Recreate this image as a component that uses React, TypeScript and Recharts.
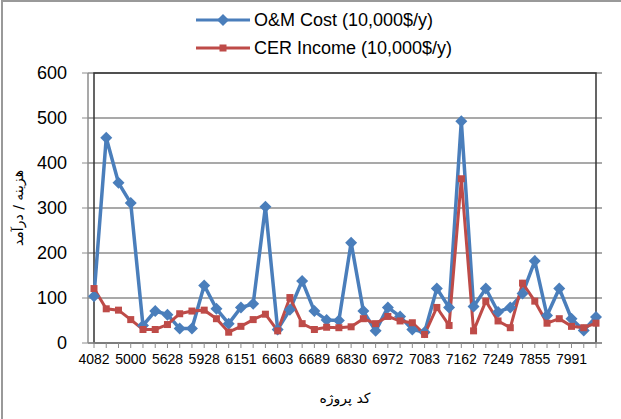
import { LineChart, Line, XAxis, YAxis, CartesianGrid, ReferenceArea } from 'recharts';

// every third project code is labelled on the axis
const codeLabels = ['4082', '5000', '5628', '5928', '6151', '6603', '6689', '6830', '6972', '7083', '7162', '7249', '7855', '7991'];

const omCost = [
  104, 456, 356, 311, 39, 71, 63, 32, 32, 128, 76, 43, 79, 87, 303,
  30, 74, 138, 71, 51, 50, 223, 71, 27, 79, 59, 30, 24, 121, 79,
  493, 81, 121, 69, 79, 110, 182, 61, 121, 54, 28, 58,
];

const cerIncome = [
  121, 76, 73, 52, 30, 30, 41, 65, 71, 73, 54, 24, 37, 52, 64,
  27, 101, 43, 30, 35, 34, 36, 54, 43, 59, 49, 45, 19, 79, 39,
  365, 27, 93, 49, 34, 133, 93, 44, 54, 37, 34, 44,
];

const yTicks = [0, 100, 200, 300, 400, 500, 600];

const BLUE = '#4a7ebb';
const RED = '#be4b48';

const data = omCost.map((v, i) => ({
  code: i % 3 === 0 ? codeLabels[i / 3] : '',
  om: v,
  cer: cerIncome[i],
}));

const Diamond = (props: any) => {
  const { cx, cy, index } = props;
  if (cx == null || cy == null) return null;
  const r = 6;
  return (
    <polygon
      key={`d-${index}`}
      points={`${cx},${cy - r} ${cx + r},${cy} ${cx},${cy + r} ${cx - r},${cy}`}
      fill={BLUE}
    />
  );
};

const Square = (props: any) => {
  const { cx, cy, index } = props;
  if (cx == null || cy == null) return null;
  const s = 7;
  return <rect key={`s-${index}`} x={cx - s / 2} y={cy - s / 2} width={s} height={s} fill={RED} />;
};

const LegendRow = ({ color, label, marker }: { color: string; label: string; marker: 'd' | 's' }) => (
  <div style={{ display: 'flex', alignItems: 'center', height: 28 }}>
    <svg width={56} height={14}>
      <line x1={0} y1={7} x2={54} y2={7} stroke={color} strokeWidth={3} />
      {marker === 'd' ? (
        <polygon points="27,1 33,7 27,13 21,7" fill={color} />
      ) : (
        <rect x={23.5} y={3.5} width={7} height={7} fill={color} />
      )}
    </svg>
    <span style={{ marginLeft: 2 }}>{label}</span>
  </div>
);

export default function App() {
  return (
    <div style={{ position: 'absolute', left: 0, top: 0, width: 621, height: 419, background: '#fff' }}>
      <LineChart width={621} height={419} data={data} margin={{ top: 73, right: 19, left: 0, bottom: 0 }}>
        <CartesianGrid vertical={false} stroke="#8c8c8c" strokeWidth={1.5} />
        <XAxis
          dataKey="code"
          interval={0}
          height={76}
          padding={{ left: 6, right: 6 }}
          tickSize={5}
          tickMargin={6}
          axisLine={{ stroke: '#8c8c8c', strokeWidth: 1.5 }}
          tickLine={{ stroke: '#8c8c8c' }}
          tick={{ fill: '#000', fontSize: 14, fontFamily: 'Liberation Sans, Arial, sans-serif' }}
          label={{
            value: 'کد پروژه',
            position: 'insideBottom',
            offset: 16,
            style: { fill: '#000', fontSize: 14, fontFamily: 'DejaVu Sans, sans-serif' },
          }}
        />
        <YAxis
          width={88}
          domain={[0, 600]}
          ticks={yTicks}
          tickSize={6}
          tickMargin={15}
          axisLine={{ stroke: '#8c8c8c', strokeWidth: 1.5 }}
          tickLine={{ stroke: '#8c8c8c' }}
          tick={{ fill: '#000', fontSize: 18, fontFamily: 'Liberation Sans, Arial, sans-serif' }}
          label={{
            value: 'هزینه / درآمد',
            angle: -90,
            position: 'insideLeft',
            offset: 18,
            style: { fill: '#000', fontSize: 14, fontFamily: 'DejaVu Sans, sans-serif', textAnchor: 'middle' },
          }}
        />
        <ReferenceArea y1={0} y2={600} fill="none" stroke="#333" strokeWidth={1.5} />
        <Line
          dataKey="om"
          stroke={BLUE}
          strokeWidth={3.5}
          dot={Diamond}
          activeDot={false}
          isAnimationActive={false}
        />
        <Line
          dataKey="cer"
          stroke={RED}
          strokeWidth={3}
          dot={Square}
          activeDot={false}
          isAnimationActive={false}
        />
      </LineChart>
      <div
        style={{
          position: 'absolute',
          left: 196,
          top: 6,
          fontFamily: 'Liberation Sans, Arial, sans-serif',
          fontSize: 18,
          color: '#000',
        }}
      >
        <LegendRow color={BLUE} label="O&M Cost (10,000$/y)" marker="d" />
        <LegendRow color={RED} label="CER Income (10,000$/y)" marker="s" />
      </div>
      <div
        style={{
          position: 'absolute',
          left: 1,
          top: 0,
          width: 620,
          height: 419,
          borderTop: '2px solid #999',
          borderLeft: '2px solid #999',
          boxSizing: 'border-box',
          pointerEvents: 'none',
        }}
      />
    </div>
  );
}
